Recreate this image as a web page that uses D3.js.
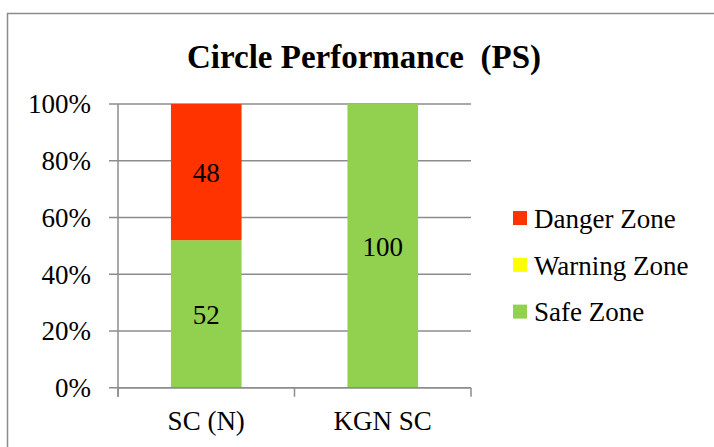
<!DOCTYPE html>
<html>
<head>
<meta charset="utf-8">
<script src="https://cdn.jsdelivr.net/npm/d3@7"></script>
<style>
  html, body { margin: 0; padding: 0; background: #fff; }
  svg { display: block; }
  text { font-family: "Liberation Serif", "Times New Roman", serif; fill: #000; }
</style>
</head>
<body>
<svg id="chart" width="714" height="447"></svg>
<script>
// Circle performance data (percent share per zone)
const categories = ["SC (N)", "KGN SC"];
const safeZone    = [52, 100];
const warningZone = [0, 0];
const dangerZone  = [48, 0];
const yTicks = [0, 20, 40, 60, 80, 100];

const seriesNames  = ["Safe Zone", "Warning Zone", "Danger Zone"];
const seriesColors = ["#92D050", "#FFFF00", "#FF3300"];
const legendOrder  = ["Danger Zone", "Warning Zone", "Safe Zone"];

const rows = categories.map((c, i) => ({
  category: c,
  "Safe Zone": safeZone[i],
  "Warning Zone": warningZone[i],
  "Danger Zone": dangerZone[i]
}));

const svg = d3.select("#chart");
const gridColor = "#8c8c8c";
const labelSize = "27px";

// outer chart frame
svg.append("rect")
  .attr("x", 7.5).attr("y", 13.5)
  .attr("width", 760).attr("height", 500)
  .attr("fill", "none")
  .attr("stroke", gridColor)
  .attr("stroke-width", 1.5);

// title
svg.append("text")
  .attr("x", 364).attr("y", 68)
  .attr("text-anchor", "middle")
  .style("font-weight", "bold")
  .style("font-size", "33px")
  .style("white-space", "pre")
  .text("Circle Performance  (PS)");

const plot = { left: 118, right: 471, top: 104, bottom: 387.7 };

const x = d3.scaleBand()
  .domain(categories)
  .range([plot.left, plot.right])
  .paddingInner(0.6)
  .paddingOuter(0.3);

const y = d3.scaleLinear()
  .domain([0, 100])
  .range([plot.bottom, plot.top]);

const g = svg.append("g");

// horizontal gridlines with short ticks left of the axis
g.selectAll("line.grid")
  .data(yTicks)
  .join("line")
  .attr("class", "grid")
  .attr("x1", plot.left - 9).attr("x2", plot.right)
  .attr("y1", d => y(d)).attr("y2", d => y(d))
  .attr("stroke", gridColor)
  .attr("stroke-width", 1.5);

// y axis labels
const yAxis = d3.axisLeft(y)
  .tickValues(yTicks)
  .tickFormat(d => d + "%")
  .tickSize(0)
  .tickPadding(0);

const yG = g.append("g")
  .attr("transform", `translate(${plot.left - 27},0)`)
  .call(yAxis);
yG.select(".domain").remove();
yG.selectAll("text")
  .style("font-family", "'Liberation Serif', serif")
  .style("font-size", labelSize)
  .attr("dy", "0.33em");

// vertical axis line
g.append("line")
  .attr("x1", plot.left).attr("x2", plot.left)
  .attr("y1", plot.top).attr("y2", plot.bottom + 9)
  .attr("stroke", gridColor).attr("stroke-width", 1.5);

// stacked bars
const stack = d3.stack().keys(seriesNames);
const stacked = stack(rows);
const color = d3.scaleOrdinal().domain(seriesNames).range(seriesColors);

const layers = g.selectAll("g.layer")
  .data(stacked)
  .join("g")
  .attr("class", "layer")
  .attr("fill", d => color(d.key));

layers.selectAll("rect")
  .data(d => d.filter(s => s[1] - s[0] > 0))
  .join("rect")
  .attr("x", d => x(d.data.category))
  .attr("width", x.bandwidth())
  .attr("y", d => y(d[1]))
  .attr("height", d => y(d[0]) - y(d[1]));

// value labels
stacked.forEach(layer => {
  layer.forEach(s => {
    const v = s[1] - s[0];
    if (v <= 0) return;
    g.append("text")
      .attr("x", x(s.data.category) + x.bandwidth() / 2)
      .attr("y", (y(s[0]) + y(s[1])) / 2)
      .attr("dy", "0.38em")
      .attr("text-anchor", "middle")
      .style("font-size", labelSize)
      .text(v);
  });
});

// x axis line and band-boundary ticks
g.append("line")
  .attr("x1", plot.left).attr("x2", plot.right)
  .attr("y1", plot.bottom).attr("y2", plot.bottom)
  .attr("stroke", gridColor).attr("stroke-width", 1.5);

const step = (plot.right - plot.left) / categories.length;
const boundaries = d3.range(categories.length + 1).map(i => plot.left + i * step);
g.selectAll("line.xtick")
  .data(boundaries)
  .join("line")
  .attr("class", "xtick")
  .attr("x1", d => d).attr("x2", d => d)
  .attr("y1", plot.bottom).attr("y2", plot.bottom + 9)
  .attr("stroke", gridColor).attr("stroke-width", 1.5);

// category labels
g.selectAll("text.cat")
  .data(categories)
  .join("text")
  .attr("class", "cat")
  .attr("x", d => x(d) + x.bandwidth() / 2)
  .attr("y", 430)
  .attr("text-anchor", "middle")
  .style("font-size", labelSize)
  .text(d => d);

// legend
const legend = svg.append("g").attr("transform", "translate(513,211)");
const items = legend.selectAll("g")
  .data(legendOrder)
  .join("g")
  .attr("transform", (d, i) => `translate(0,${i * 46.8})`);
items.append("rect")
  .attr("width", 14).attr("height", 14)
  .attr("fill", d => color(d));
items.append("text")
  .attr("x", 21).attr("y", 7)
  .attr("dy", "0.36em")
  .style("font-size", labelSize)
  .text(d => d);
</script>
</body>
</html>
